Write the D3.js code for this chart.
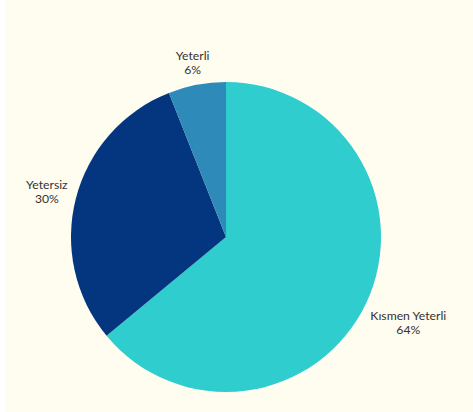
<!DOCTYPE html>
<html lang="tr">
    <head>
        <meta charset="UTF-8" />
        <title>Pie</title>
        <script src="https://d3js.org/d3.v7.js"></script>
    </head>

    <body>
        <div id="dataviz"></div>
    </body>

    <script>
        const labels = ["Kısmen Yeterli", "Yetersiz", "Yeterli"];
        const values = [64, 30, 6];
        const colors = ["#2fcdcd", "#03367f", "#2e8bb9"];

        const width = 468, height = 412;
        const cx = 221, cy = 237, radius = 155;

        const svg = d3.select("#dataviz")
            .append("svg")
            .attr("width", width)
            .attr("height", height);

        svg.append("rect")
            .attr("width", width)
            .attr("height", height)
            .attr("fill", "#fffcf0");

        const g = svg.append("g")
            .attr("transform", `translate(${cx},${cy})`);

        const pie = d3.pie().sort(null).value(d => d.value);
        const data = pie(labels.map((l, i) => ({label: l, value: values[i], color: colors[i]})));

        const arc = d3.arc().innerRadius(0).outerRadius(radius);

        g.selectAll("path")
            .data(data)
            .join("path")
            .attr("d", arc)
            .attr("fill", d => d.data.color);

        // labels sit on the mid-angle ray, pushed out until the closest
        // point of the text block is labelR away from the centre
        const labelR = 161;
        const lab = g.selectAll("g.lab")
            .data(data)
            .join("g")
            .attr("class", "lab")
            .style("font-family", "Lato, 'Open Sans', sans-serif")
            .style("font-size", "12.2px")
            .attr("fill", "#333333")
            .attr("text-anchor", "middle");

        lab.append("text").attr("y", 0).text(d => d.data.label);
        lab.append("text").attr("y", 14).text(d => d.data.value + "%");

        const clamp = (v, lo, hi) => Math.max(lo, Math.min(hi, v));

        lab.attr("transform", function(d) {
            const a = (d.startAngle + d.endAngle) / 2;
            const s = Math.sin(a), c = -Math.cos(a);
            const bb = this.getBBox();
            const hw = bb.width / 2, hh = bb.height / 2;
            const near = t => {
                const x0 = t * s, y0 = t * c;
                const nx = clamp(0, x0 - hw, x0 + hw), ny = clamp(0, y0 - hh, y0 + hh);
                return Math.hypot(nx, ny);
            };
            let lo = 0, hi = 500;
            for (let k = 0; k < 40; k++) {
                const mid = (lo + hi) / 2;
                if (near(mid) < labelR) lo = mid; else hi = mid;
            }
            const px = lo * s - (bb.x + hw);
            const py = lo * c - (bb.y + hh);
            return `translate(${px},${py})`;
        });
    </script>

    <style>
        body {
            margin: 0;
            background: #ffffff;
        }
        #dataviz {
            margin-left: 5px;
        }
        svg {
            display: block;
        }
    </style>
</html>
